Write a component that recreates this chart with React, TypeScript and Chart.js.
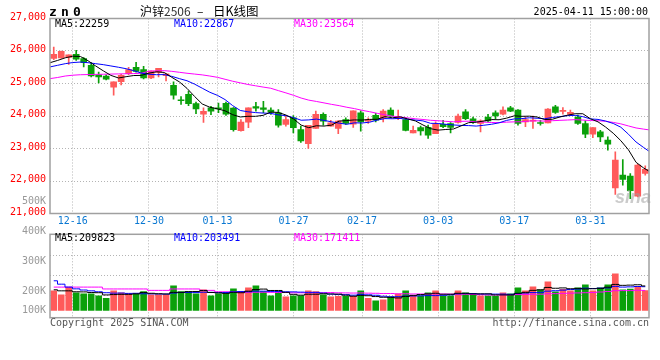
import React, { useEffect, useRef } from "react";
import { Chart, registerables } from "chart.js";

Chart.register(...registerables);

// ---------- data ----------
const AXIS_DATES = ["12-16", "12-30", "01-13", "01-27", "02-17", "03-03", "03-17", "03-31"];
const AXIS_SLOTS = [3, 13, 22, 32, 41, 51, 61, 71];
const PRICE_MIN = 21000;
const PRICE_MAX = 27000;
const PRICE_STEP = 1000;

const OPEN = [25770, 25790, 25800, 25900, 25770, 25560, 25270, 25230, 24890, 25060,
  25300, 25500, 25430, 25170, 25340, 25240, 24940, 24500, 24670, 24380,
  24060, 24250, 24250, 24390, 24240, 23550, 23810, 24290, 24250, 24180,
  24100, 23740, 23940, 23580, 23150, 23620, 24050, 23690, 23620, 23890,
  23750, 24100, 23840, 24020, 23920, 24180, 23920, 23890, 23480, 23640,
  23650, 23460, 23740, 23770, 23800, 24130, 23910, 23770, 23970, 24100,
  24060, 24250, 24180, 23820, 23840, 23800, 23790, 24280, 24140, 24050,
  23970, 23770, 23440, 23510, 23260, 21790, 22180, 22150, 21530, 22230];
const HIGH = [26120, 26000, 25880, 26020, 25800, 25640, 25350, 25270, 25050, 25280,
  25500, 25650, 25530, 25390, 25470, 25300, 25050, 24600, 24770, 24430,
  24250, 24300, 24400, 24430, 24260, 23890, 24250, 24420, 24450, 24250,
  24200, 24000, 24010, 23690, 23710, 24150, 24100, 23870, 23860, 23940,
  24160, 24160, 23940, 24080, 24200, 24250, 24180, 23940, 23690, 23690,
  23720, 23820, 23870, 23800, 24060, 24200, 23970, 23880, 24050, 24160,
  24280, 24300, 24200, 23970, 24000, 23870, 24230, 24330, 24260, 24180,
  24030, 23850, 23640, 23560, 23360, 22900, 22660, 22230, 22510, 22470];
const LOW = [25730, 25780, 25590, 25710, 25510, 25200, 25020, 25110, 24640, 24960,
  25270, 25350, 25140, 25150, 25200, 25080, 24520, 24360, 24320, 24070,
  23800, 24040, 24100, 24020, 23530, 23530, 23640, 24150, 24100, 24050,
  23660, 23690, 23480, 23190, 23000, 23620, 23720, 23690, 23460, 23740,
  23650, 23530, 23770, 23820, 23820, 23990, 23890, 23540, 23480, 23410,
  23310, 23460, 23640, 23480, 23780, 23890, 23770, 23510, 23820, 23920,
  24030, 24130, 23720, 23670, 23620, 23720, 23790, 24080, 24060, 24030,
  23740, 23330, 23330, 23210, 22950, 21590, 21870, 21460, 21510, 22180];
const CLOSE = [25900, 25990, 25880, 25750, 25640, 25230, 25200, 25130, 25050, 25250,
  25430, 25370, 25170, 25380, 25470, 25300, 24640, 24470, 24380, 24220,
  24140, 24150, 24220, 24060, 23580, 23810, 24250, 24240, 24200, 24120,
  23720, 23890, 23640, 23230, 23710, 24050, 23840, 23790, 23840, 23770,
  24160, 23820, 23890, 23870, 24150, 24000, 23960, 23560, 23560, 23540,
  23410, 23740, 23670, 23650, 24000, 23920, 23810, 23850, 23850, 24000,
  24180, 24150, 23770, 23890, 23870, 23770, 24210, 24110, 24160, 24110,
  23770, 23440, 23640, 23360, 23130, 22640, 22050, 21700, 22490, 22360];

const MA5 = [25640, 25710, 25790, 25840, 25830, 25700, 25540, 25390, 25250, 25170,
  25210, 25245, 25250, 25320, 25360, 25340, 25190, 25050, 24850, 24600,
  24370, 24270, 24220, 24160, 24040, 23970, 23990, 23990, 24020, 24120,
  24110, 24030, 23910, 23720, 23640, 23700, 23690, 23720, 23845, 23860,
  23880, 23875, 23895, 23900, 23980, 23945, 23975, 23910, 23850, 23725,
  23610, 23565, 23585, 23600, 23695, 23795, 23810, 23845, 23890, 23885,
  23935, 24005, 23990, 23995, 23970, 23890, 23900, 23970, 24025, 24070,
  24070, 23915, 23820, 23660, 23470, 23240, 22960, 22575, 22400, 22259];
const MA10 = [25510, 25560, 25610, 25645, 25660, 25640, 25610, 25580, 25540, 25500,
  25455, 25395, 25320, 25285, 25270, 25275, 25220, 25150, 25085, 24980,
  24855, 24730, 24635, 24505, 24320, 24170, 24130, 24105, 24090, 24080,
  24035, 24010, 23950, 23870, 23880, 23905, 23865, 23820, 23780, 23745,
  23790, 23785, 23810, 23875, 23920, 23915, 23925, 23900, 23875, 23850,
  23775, 23770, 23745, 23725, 23710, 23705, 23690, 23715, 23745, 23790,
  23865, 23910, 23920, 23945, 23930, 23915, 23955, 23980, 24010, 24020,
  23980, 23910, 23895, 23845, 23770, 23655, 23440, 23200, 23030, 22867];
const MA30 = [25150, 25185, 25230, 25255, 25270, 25275, 25280, 25285, 25290, 25295,
  25300, 25305, 25315, 25380, 25390, 25395, 25375, 25345, 25315, 25290,
  25265, 25230, 25190, 25130, 25070, 25020, 24970, 24930, 24890, 24854,
  24781, 24711, 24637, 24552, 24488, 24448, 24403, 24358, 24318, 24269,
  24227, 24175, 24132, 24082, 24038, 23994, 23972, 23942, 23915, 23893,
  23868, 23854, 23836, 23822, 23836, 23840, 23825, 23812, 23800, 23796,
  23811, 23820, 23824, 23846, 23852, 23843, 23855, 23866, 23876, 23888,
  23875, 23862, 23854, 23837, 23803, 23758, 23694, 23632, 23596, 23564];

const VOLUME = [168000, 134000, 197000, 151000, 143000, 143000, 125000, 103000, 168000, 151000,
  143000, 143000, 162000, 134000, 134000, 134000, 211000, 162000, 162000, 143000,
  177000, 125000, 143000, 143000, 185000, 162000, 194000, 211000, 162000, 125000,
  162000, 117000, 125000, 125000, 168000, 162000, 134000, 117000, 120000, 120000,
  120000, 168000, 103000, 83000, 91000, 117000, 143000, 168000, 125000, 125000,
  151000, 168000, 125000, 125000, 168000, 151000, 143000, 125000, 125000, 120000,
  151000, 143000, 194000, 168000, 202000, 177000, 245000, 160000, 180000, 168000,
  194000, 220000, 168000, 194000, 220000, 314000, 177000, 182000, 205000, 171000];
const VMA5 = [177000, 168000, 168000, 160000, 159000, 154000, 152000, 133000, 136000, 138000,
  138000, 142000, 153000, 147000, 143000, 141000, 155000, 155000, 161000, 162000,
  171000, 154000, 150000, 146000, 155000, 152000, 165000, 179000, 183000, 171000,
  171000, 155000, 138000, 131000, 139000, 139000, 143000, 141000, 140000, 131000,
  122000, 129000, 126000, 119000, 113000, 112000, 107000, 120000, 129000, 136000,
  142000, 147000, 139000, 139000, 147000, 147000, 142000, 142000, 142000, 133000,
  133000, 133000, 147000, 155000, 172000, 177000, 197000, 190000, 193000, 186000,
  189000, 184000, 186000, 189000, 199000, 223000, 215000, 217000, 220000, 209823];
const VMA10 = [254000, 225000, 200000, 185000, 175000, 168000, 160000, 152000, 148000, 149000,
  146000, 147000, 143000, 142000, 141000, 140000, 149000, 154000, 154000, 153000,
  156000, 155000, 153000, 154000, 159000, 162000, 160000, 165000, 165000, 163000,
  162000, 160000, 159000, 157000, 155000, 155000, 149000, 140000, 136000, 135000,
  131000, 136000, 134000, 130000, 122000, 117000, 118000, 123000, 124000, 125000,
  127000, 127000, 130000, 134000, 142000, 145000, 145000, 141000, 141000, 140000,
  140000, 138000, 145000, 149000, 153000, 155000, 165000, 169000, 174000, 179000,
  183000, 191000, 188000, 191000, 193000, 206000, 200000, 202000, 205000, 203491];
const VMA30 = [200000, 200000, 200000, 200000, 200000, 200000, 200000, 184000, 184000, 184000,
  184000, 184000, 184000, 172000, 172000, 172000, 184000, 184000, 184000, 184000,
  172000, 172000, 160000, 160000, 160000, 156000, 156000, 156000, 156000, 155000,
  154000, 154000, 151000, 151000, 151000, 152000, 152000, 153000, 151000, 150000,
  149000, 150000, 148000, 147000, 145000, 145000, 142000, 143000, 141000, 141000,
  140000, 141000, 141000, 140000, 140000, 139000, 137000, 135000, 133000, 133000,
  133000, 134000, 136000, 137000, 139000, 139000, 143000, 144000, 146000, 148000,
  150000, 152000, 154000, 158000, 162000, 169000, 170000, 170000, 173000, 171411];

// ---------- styles ----------
const UP = "#ff5a5a";
const DOWN = "#0aa00a";
const GRID = "#b4b4b4";
const FRAME = "#a0a0a0";
const MONO = "'DejaVu Sans Mono', monospace";
const CJK = "'Noto Sans CJK SC', sans-serif";

const framePlugin = {
  id: "frame",
  afterDraw(chart: any) {
    const { ctx, chartArea } = chart;
    const { left, top, right, bottom } = chartArea;
    ctx.save();
    ctx.strokeStyle = FRAME;
    ctx.lineWidth = 1.5;
    ctx.strokeRect(left, top, right - left, bottom - top);
    ctx.restore();
  },
};

const gridAxis = (showLabels: boolean) => ({
  type: "linear" as const,
  position: "bottom" as const,
  offset: false,
  min: 0,
  max: 78.7,
  afterBuildTicks: (s: any) => {
    s.ticks = AXIS_SLOTS.map((v) => ({ value: v }));
  },
  ticks: {
    display: showLabels,
    autoSkip: false,
    maxRotation: 0,
    padding: 2,
    color: "#0a78d2",
    font: { family: MONO, size: 10 },
    callback: (_v: any, i: number) => AXIS_DATES[i] ?? "",
  },
  grid: { color: GRID, drawTicks: false, lineWidth: 1, offset: false },
  border: { display: false, dash: [1, 2] },
  afterFit: (s: any) => {
    s.height = showLabels ? 16.5 : 0;
  },
});

const candleAxis = { type: "linear" as const, min: -0.5, max: 79.5, offset: false, display: false };

function Txt(props: {
  x: number;
  y: number;
  align?: "left" | "right";
  color?: string;
  size?: number;
  font?: string;
  bold?: boolean;
  spacing?: number;
  children: React.ReactNode;
}) {
  const { x, y, align = "left", color = "#000", size = 10, font = MONO, bold, spacing, children } = props;
  const style: React.CSSProperties = {
    position: "absolute",
    top: y - size * 0.5,
    fontFamily: font,
    fontSize: size,
    lineHeight: `${size}px`,
    color,
    whiteSpace: "nowrap",
    fontWeight: bold ? 700 : 400,
    letterSpacing: spacing ?? 0,
  };
  if (align === "left") style.left = x;
  else style.right = 660 - x;
  return <div style={style}>{children}</div>;
}

export default function App() {
  const priceRef = useRef<HTMLCanvasElement>(null);
  const volRef = useRef<HTMLCanvasElement>(null);

  useEffect(() => {
    const idx = OPEN.map((_, i) => i);
    const colors = idx.map((i) => (CLOSE[i] >= OPEN[i] ? UP : DOWN));
    const maLine = (arr: number[], color: string, axis: string, stepped: any = false) => ({
      type: "line" as const,
      data: arr.map((v, i) => ({ x: i, y: v })),
      xAxisID: axis,
      borderColor: color,
      backgroundColor: color,
      borderWidth: 1,
      pointRadius: 0,
      tension: 0,
      stepped,
      order: 0,
    });

    const price = new Chart(priceRef.current!, {
      type: "bar",
      data: {
        datasets: [
          maLine(MA5, "#000000", "x2"),
          maLine(MA10, "#0000ff", "x2"),
          maLine(MA30, "#ff00ff", "x2"),
          {
            type: "bar",
            data: idx.map((i) => ({ x: i, y: [OPEN[i], CLOSE[i]] })),
            backgroundColor: colors,
            barThickness: 6,
            minBarLength: 1,
            grouped: false,
            xAxisID: "x",
            order: 1,
          },
          {
            type: "bar",
            data: idx.map((i) => ({ x: i, y: [LOW[i], HIGH[i]] })),
            backgroundColor: colors,
            barThickness: 1,
            grouped: false,
            xAxisID: "x",
            order: 2,
          },
        ] as any,
      },
      options: {
        responsive: false,
        animation: false,
        layout: { padding: { top: 18.5, right: 11, left: 0, bottom: 0 } },
        plugins: { legend: { display: false }, tooltip: { enabled: false } },
        scales: {
          x: candleAxis as any,
          x2: gridAxis(true) as any,
          y: {
            type: "linear",
            min: PRICE_MIN,
            max: PRICE_MAX,
            ticks: {
              stepSize: PRICE_STEP,
              padding: 4,
              color: "#ff0000",
              labelOffset: -1.5,
              font: { family: MONO, size: 10 },
            },
            grid: { color: GRID, drawTicks: false, lineWidth: 1 },
            border: { display: false, dash: [1, 2] },
            afterFit: (s: any) => {
              s.width = 50;
            },
          } as any,
        },
      },
      plugins: [framePlugin],
    });

    const vol = new Chart(volRef.current!, {
      type: "bar",
      data: {
        datasets: [
          maLine(VMA5, "#000000", "x", "middle"),
          maLine(VMA10, "#0000ff", "x", "middle"),
          maLine(VMA30, "#ff00ff", "x", "middle"),
          {
            type: "bar",
            data: idx.map((i) => ({ x: i, y: VOLUME[i] })),
            backgroundColor: colors,
            barThickness: 6,
            grouped: false,
            xAxisID: "x",
            order: 1,
          },
        ] as any,
      },
      options: {
        responsive: false,
        animation: false,
        layout: { padding: { top: 8.3, right: 11, left: 0, bottom: 42.3 } },
        plugins: { legend: { display: false }, tooltip: { enabled: false } },
        scales: {
          x: candleAxis as any,
          x2: gridAxis(false) as any,
          y: { type: "linear", min: -62000, max: 652000, display: false },
          yg: {
            type: "linear",
            position: "left",
            min: -0.135,
            max: 4.035,
            afterBuildTicks: (s: any) => {
              s.ticks = [1, 2, 3].map((v) => ({ value: v }));
            },
            ticks: { display: false },
            grid: { color: GRID, drawTicks: false, lineWidth: 1 },
            border: { display: false, dash: [1, 2] },
            afterFit: (s: any) => {
              s.width = 50;
            },
          } as any,
        },
      },
      plugins: [framePlugin],
    });

    return () => {
      price.destroy();
      vol.destroy();
    };
  }, []);

  return (
    <div
      style={{
        position: "fixed",
        left: 0,
        top: 0,
        width: 660,
        height: 360,
        background: "#fff",
        overflow: "hidden",
      }}
    >
      <canvas ref={priceRef} width={660} height={230} style={{ position: "absolute", left: 0, top: 0 }} />
      <canvas ref={volRef} width={660} height={134} style={{ position: "absolute", left: 0, top: 226 }} />

      <Txt x={49} y={11.5} size={13} bold spacing={4.2}>zn0</Txt>
      <Txt x={140} y={11} size={12} font={CJK}>
        沪锌<span style={{ color: "#333" }}>2506</span>
      </Txt>
      <Txt x={197} y={11} size={12} font={CJK}>–</Txt>
      <Txt x={213} y={11} size={12.5} font={CJK}>日K线图</Txt>
      <Txt x={648} y={11.5} align="right">2025-04-11 15:00:00</Txt>

      <Txt x={55} y={23.7}>MA5:22259</Txt>
      <Txt x={174} y={23.7} color="#0000ff">MA10:22867</Txt>
      <Txt x={294} y={23.7} color="#ff00ff">MA30:23564</Txt>

      <Txt x={46} y={200.7} align="right" color="#999">500K</Txt>
      <Txt x={46} y={230.8} align="right" color="#999">400K</Txt>
      <Txt x={46} y={261} align="right" color="#999">300K</Txt>
      <Txt x={46} y={291} align="right" color="#999">200K</Txt>
      <Txt x={46} y={310.3} align="right" color="#999">100K</Txt>

      <Txt x={55} y={238.3}>MA5:209823</Txt>
      <Txt x={174} y={238.3} color="#0000ff">MA10:203491</Txt>
      <Txt x={294} y={238.3} color="#ff00ff">MA30:171411</Txt>

      <Txt x={50} y={323.3} color="#555">Copyright 2025 SINA.COM</Txt>
      <Txt x={649} y={323.3} align="right" color="#555">http://finance.sina.com.cn</Txt>

      <div
        style={{
          position: "absolute",
          left: 615,
          top: 188,
          fontFamily: "'Liberation Sans', sans-serif",
          fontStyle: "italic",
          fontWeight: 700,
          fontSize: 18,
          lineHeight: "18px",
          color: "rgba(160,160,160,0.55)",
        }}
      >
        sina
      </div>
    </div>
  );
}
